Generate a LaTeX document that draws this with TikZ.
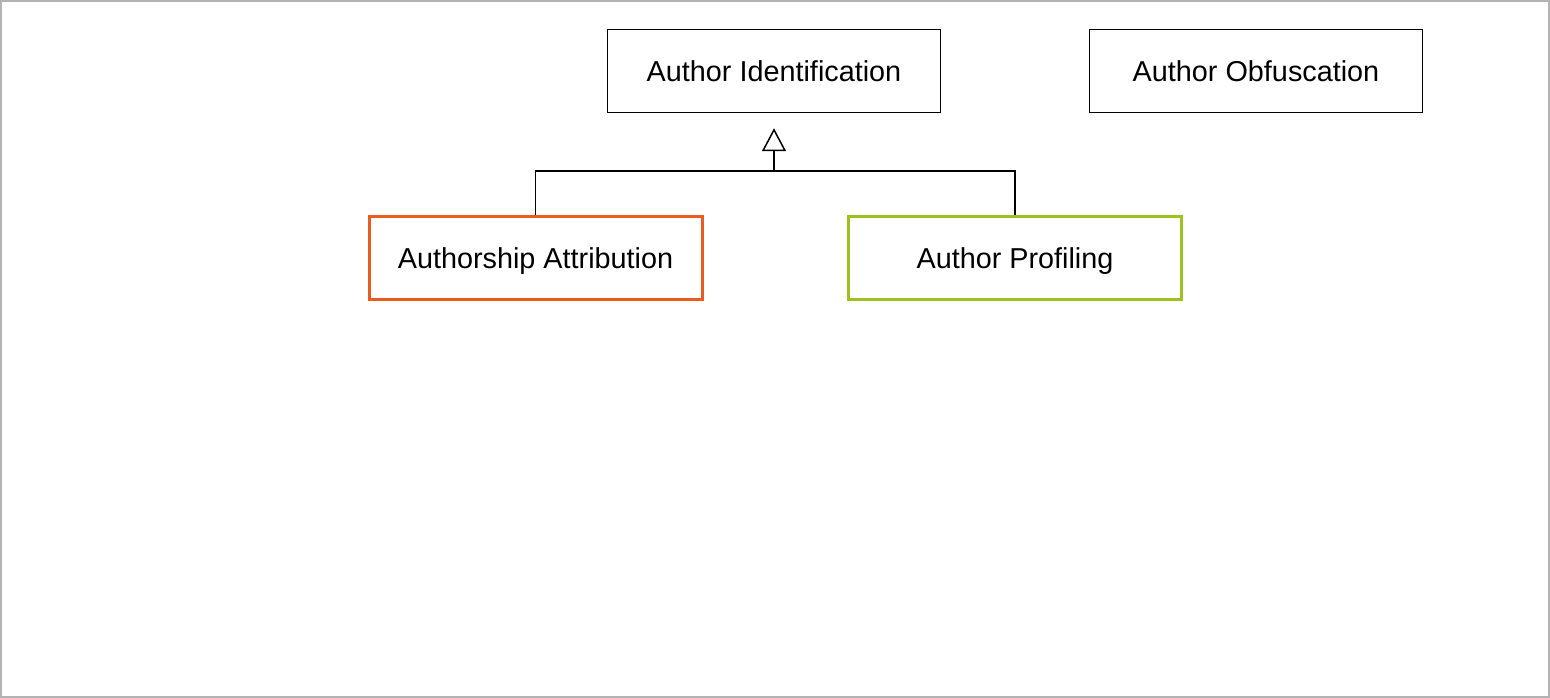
\documentclass[tikz,border=0pt]{standalone}
\usepackage{fontspec}
\setmainfont{Liberation Sans}
\usetikzlibrary{arrows.meta}
\definecolor{frame}{RGB}{179,179,179}
\definecolor{attrorange}{RGB}{234,91,31}
\definecolor{profgreen}{RGB}{157,194,29}
\tikzset{
  box/.style={draw=black, line width=1.5pt, fill=white, minimum width=333pt,
    minimum height=83pt, inner sep=0pt, text depth=0pt,
    font=\fontsize{28.8}{34}\selectfont},
  link/.style={draw=black, line width=1.5pt},
  inherit/.style={link, -{Triangle[open, length=23pt, width=24pt, line width=1.5pt]}}
}
\begin{document}
\begin{tikzpicture}[x=1pt, y=-1pt]
  \useasboundingbox (0,0) rectangle (1550,698);
  \draw[frame, line width=2pt] (1,1) rectangle (1549,697);

  \node[box] (ident) at (774,71) {Author Identification};
  \node[box] (obf) at (1256,71) {Author Obfuscation};
  \node[box, draw=attrorange, line width=3pt] (attr) at (535.5,258) {Authorship Attribution};
  \node[box, draw=profgreen, line width=3pt] (prof) at (1015,258) {Author Profiling};

  \coordinate (join) at (774,171);
  \draw[link] (attr.north) |- (join) -| (prof.north);
  \draw[inherit, shorten >=15pt] (join) -- (ident.south);
\end{tikzpicture}
\end{document}
